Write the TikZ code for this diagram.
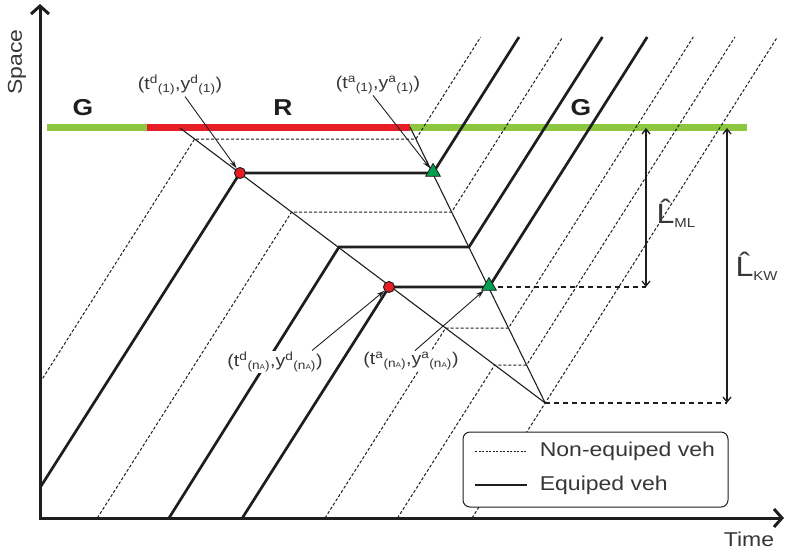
\documentclass[tikz,border=0pt]{standalone}
\usepackage{fontspec}
\setmainfont{Liberation Sans}[FakeStretch=1.15]
\usetikzlibrary{arrows.meta,shapes.geometric}
\definecolor{ink}{RGB}{30,30,30}
\definecolor{txt}{RGB}{55,55,55}
\definecolor{gogreen}{RGB}{141,198,63}
\definecolor{stopred}{RGB}{230,30,38}
\definecolor{arrgreen}{RGB}{0,160,80}
\tikzset{
  every picture/.style={color=ink, line width=1pt},
  axis/.style={line width=3pt, {Straight Barb[length=8pt,width=18pt]}-{Straight Barb[length=8pt,width=18pt]}},
  phase/.style={line width=7pt},
  phaselbl/.style={font=\fontsize{23}{25}\selectfont\bfseries, text=ink},
  equip/.style={line width=2.7pt},
  nonequip/.style={line width=1pt, dash pattern=on 3pt off 2pt},
  wave/.style={line width=1.1pt},
  refline/.style={line width=1.1pt, dash pattern=on 5pt off 4pt},
  dist/.style={line width=1.3pt, {Straight Barb[length=5pt,width=8pt]}-{Straight Barb[length=5pt,width=8pt]}},
  callout/.style={line width=0.9pt, -{Stealth[length=8pt,width=5pt]}},
  depdot/.style={circle, draw=ink, fill=stopred, line width=1pt, minimum size=11pt, inner sep=0pt},
  arrtri/.style={regular polygon, regular polygon sides=3, draw=ink, fill=arrgreen, line width=0.8pt, minimum size=17pt, inner sep=0pt},
  ptlbl/.style={font=\fontsize{17}{19}\selectfont, text=txt, fill=white, inner sep=1pt},
  axlbl/.style={font=\fontsize{20}{22}\selectfont, text=txt},
  hatlbl/.style={font=\fontsize{28}{30}\selectfont, text=txt, inner sep=0pt, anchor=west},
  leg/.style={draw=ink, line width=1pt, rounded corners=7pt, fill=white},
  legtxt/.style={font=\fontsize{20}{22}\selectfont, text=txt, anchor=west},
}
\newcommand\evpt[3]{(#1\textsuperscript{#2}\textsubscript{#3},y\textsuperscript{#2}\textsubscript{#3})}
\newcommand\nA{(n{\fontsize{7}{7}\selectfont A})}

\begin{document}
\begin{tikzpicture}[x=1pt, y=-1pt]
  \useasboundingbox (0,0) rectangle (786,550);
  % signal timeline at the stop line
  \coordinate (sl0) at (47,127);
  \coordinate (red0) at (147,127);
  \coordinate (gstart) at (410,127);
  \coordinate (sl1) at (747,127);
  \draw[phase, gogreen] (sl0) -- (red0);
  \draw[phase, stopred] (red0) -- (gstart);
  \draw[phase, gogreen] (gstart) -- (sl1);
  \node[phaselbl] (g1) at (83,108) {G};
  \node[phaselbl] (r1) at (283,108) {R};
  \node[phaselbl] (g2) at (581,108) {G};

  % axes
  \coordinate (O) at (40,518);
  \coordinate (ytip) at (40,4);
  \coordinate (xtip) at (784,518);
  \draw[axis] (ytip) -- (O) -- (xtip);
  \node[axlbl, rotate=90] (space) at (17,62) {Space};
  \node[axlbl] (time) at (749,539) {Time};

  % queue formation and discharge waves
  \coordinate (qtail) at (180,128);
  \coordinate (apex) at (545.2,403);
  \draw[wave] (qtail) -- (apex);
  \draw[wave] (gstart) -- (apex);

  % vehicles (in -> stop -> go -> out)
  \coordinate (v1in) at (40,382.5);   \coordinate (v1stop) at (194.6,139);
  \coordinate (v1go) at (415.9,139);  \coordinate (v1out) at (480.7,37);
  \coordinate (v2in) at (40,487.7);   \coordinate (v2stop) at (240,173);
  \coordinate (v2go) at (433,173);    \coordinate (v2out) at (519,37);
  \coordinate (v3in) at (97.3,518);   \coordinate (v3stop) at (291.6,212);
  \coordinate (v3go) at (451.6,212);  \coordinate (v3out) at (562.7,37);
  \coordinate (v4in) at (169,518);    \coordinate (v4stop) at (339,247);
  \coordinate (v4go) at (469,247);    \coordinate (v4out) at (602.4,37);
  \coordinate (v5in) at (242.3,518);  \coordinate (v5stop) at (389,287);
  \coordinate (v5go) at (489,287);    \coordinate (v5out) at (647.2,37);
  \coordinate (v6in) at (325,518);    \coordinate (v6stop) at (445.6,328);
  \coordinate (v6go) at (508.5,328);  \coordinate (v6out) at (693.3,37);
  \coordinate (v7in) at (397.5,518);  \coordinate (v7stop) at (494.7,365);
  \coordinate (v7go) at (526.6,365);  \coordinate (v7out) at (734.9,37);
  \coordinate (v8in) at (472,518);    \coordinate (v8out) at (777.4,37);
  \draw[nonequip] (v1in) -- (v1stop) -- (v1go) -- (v1out);
  \draw[equip] (v2in) -- (v2stop) -- (v2go) -- (v2out);
  \draw[nonequip] (v3in) -- (v3stop) -- (v3go) -- (v3out);
  \draw[equip] (v4in) -- (v4stop) -- (v4go) -- (v4out);
  \draw[equip] (v5in) -- (v5stop) -- (v5go) -- (v5out);
  \draw[nonequip] (v6in) -- (v6stop) -- (v6go) -- (v6out);
  \draw[nonequip] (v7in) -- (v7stop) -- (v7go) -- (v7out);
  \draw[nonequip] (v8in) -- (apex) -- (v8out);

  % queue lengths
  \coordinate (mltop) at (646,128);
  \coordinate (mlbot) at (646,287);
  \coordinate (kwtop) at (727,128);
  \coordinate (kwbot) at (727,403);
  \draw[refline] (v5go) -- (mlbot);
  \draw[refline] (apex) -- (kwbot);
  \draw[dist] (mltop) -- (mlbot);
  \draw[dist] (kwtop) -- (kwbot);
  \node[hatlbl] (lml) at (656,213) {\^{L}\textsubscript{\fontsize{13}{13}\selectfont ML}};
  \node[hatlbl] (lkw) at (735,266) {\^{L}\textsubscript{\fontsize{13}{13}\selectfont KW}};

  % stop / go points
  \node[depdot] (d1) at (v2stop) {};
  \node[arrtri] (a1) at ([yshift=1pt]v2go) {};
  \node[depdot] (dn) at (v5stop) {};
  \node[arrtri] (an) at ([yshift=1pt]v5go) {};

  % event labels
  \node[ptlbl] (l1d) at (180,85) {\evpt{t}{d}{(1)}};
  \node[ptlbl] (l1a) at (378,85) {\evpt{t}{a}{(1)}};
  \node[ptlbl] (lnd) at (275,362) {\evpt{t}{d}{\nA}};
  \node[ptlbl] (lna) at (411,361) {\evpt{t}{a}{\nA}};
  \draw[callout] ([xshift=5pt]l1d.south) -- (d1);
  \draw[callout] ([xshift=-5pt]l1a.south) -- (a1);
  \draw[callout] ([xshift=-12pt]lnd.north east) -- (dn);
  \draw[callout] ([xshift=4pt]lna.north) -- (an);

  % legend
  \node[leg, minimum width=265pt, minimum height=75pt] (legend) at (595.5,469.5) {};
  \coordinate (k1a) at (475,451); \coordinate (k1b) at (527,451);
  \coordinate (k2a) at (475,485); \coordinate (k2b) at (527,485);
  \draw[nonequip, dash pattern=on 2pt off 1.5pt] (k1a) -- (k1b);
  \draw[equip] (k2a) -- (k2b);
  \node[legtxt] (k1) at (536,451) {Non-equiped veh};
  \node[legtxt] (k2) at (536,485) {Equiped veh};
\end{tikzpicture}
\end{document}
